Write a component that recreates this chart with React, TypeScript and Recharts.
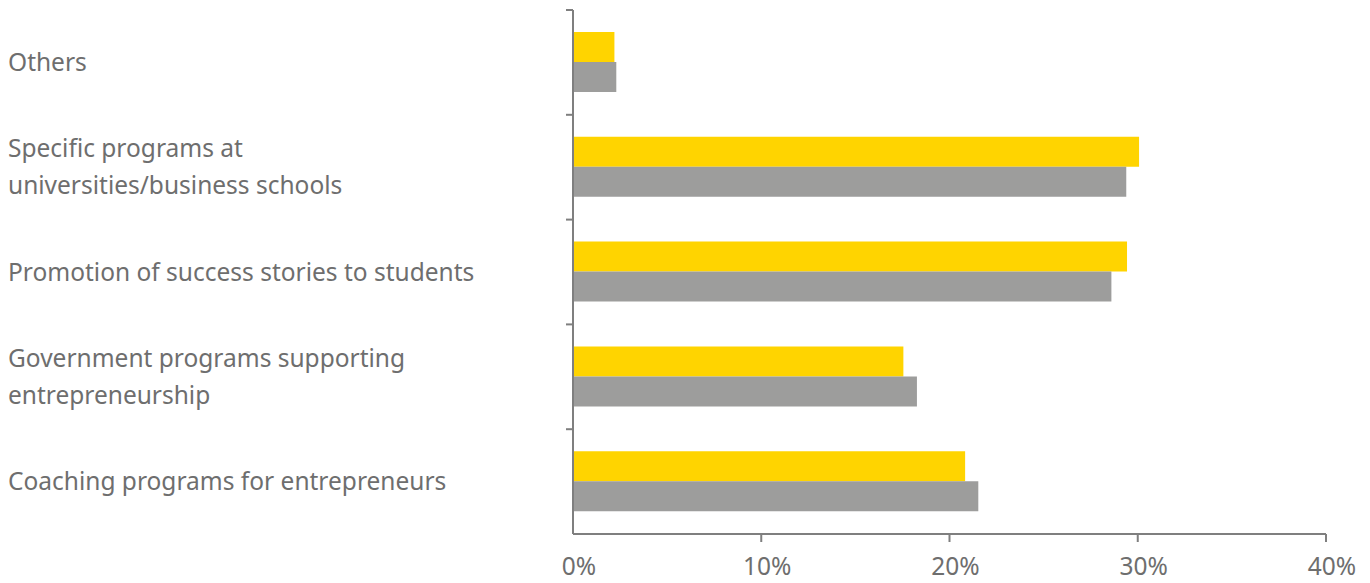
import { BarChart, Bar, XAxis, YAxis } from "recharts";

// categories top to bottom, values in %
const categories = [
  "Others",
  "Specific programs at|universities/business schools",
  "Promotion of success stories to students",
  "Government programs supporting|entrepreneurship",
  "Coaching programs for entrepreneurs",
];
const yellowValues = [2.2, 30.07, 29.43, 17.55, 20.83];
const greyValues = [2.3, 29.39, 28.6, 18.27, 21.53];
const xTicks = [0, 10, 20, 30, 40];

const YELLOW = "#FFD400";
const GREY = "#9D9D9C";
const AXIS = "#7F7F7F";
const TEXT = "#6E6E6E";
const FONT = "'Noto Sans', sans-serif";
const FONT_SIZE = 24.5;

const data = categories.map((name, i) => ({
  name,
  yellow: yellowValues[i],
  grey: greyValues[i],
}));

// label left-aligned at the page edge, plus a tick mark at the top of each band
const CategoryTick = ({ x, y, payload }: any) => {
  const lines = String(payload.value).split("|");
  const gap = 37;
  const start = y - ((lines.length - 1) * gap) / 2;
  const half = payload.offset ?? 0;
  const axisX = x;
  return (
    <g>
      <line
        x1={axisX - 7}
        x2={axisX}
        y1={y - half}
        y2={y - half}
        stroke={AXIS}
        strokeWidth={2}
      />
      {lines.map((l, i) => (
        <text
          key={i}
          x={8}
          y={start + i * gap}
          dy="0.35em"
          textAnchor="start"
          fill={TEXT}
          fontSize={FONT_SIZE}
          fontFamily={FONT}
        >
          {l}
        </text>
      ))}
    </g>
  );
};

const PercentTick = ({ x, y, payload }: any) => (
  <g>
    {payload.value !== 0 && (
      <line x1={x} x2={x} y1={y} y2={y + 8} stroke={AXIS} strokeWidth={2} />
    )}
    <text
      x={x + 6}
      y={y + 32}
      dy="0.35em"
      textAnchor="middle"
      fill={TEXT}
      fontSize={FONT_SIZE}
      fontFamily={FONT}
    >
      {payload.value}%
    </text>
  </g>
);

export default function App() {
  return (
    <div style={{ position: "absolute", left: 0, top: 0, background: "#fff" }}>
      <BarChart
        width={1370}
        height={583}
        data={data}
        layout="vertical"
        margin={{ top: 10, right: 44, bottom: 0, left: 0 }}
        barGap={0}
        barCategoryGap={22}
      >
        <YAxis
          type="category"
          dataKey="name"
          width={573}
          tick={<CategoryTick />}
          tickLine={false}
          tickSize={0}
          tickMargin={0}
          axisLine={{ stroke: AXIS, strokeWidth: 2 }}
        />
        <XAxis
          type="number"
          domain={[0, 40]}
          ticks={xTicks}
          tick={<PercentTick />}
          tickLine={false}
          tickSize={0}
          tickMargin={0}
          axisLine={{ stroke: AXIS, strokeWidth: 2 }}
          height={49}
        />
        <Bar dataKey="yellow" fill={YELLOW} barSize={30} isAnimationActive={false} />
        <Bar dataKey="grey" fill={GREY} barSize={30} isAnimationActive={false} />
      </BarChart>
    </div>
  );
}
